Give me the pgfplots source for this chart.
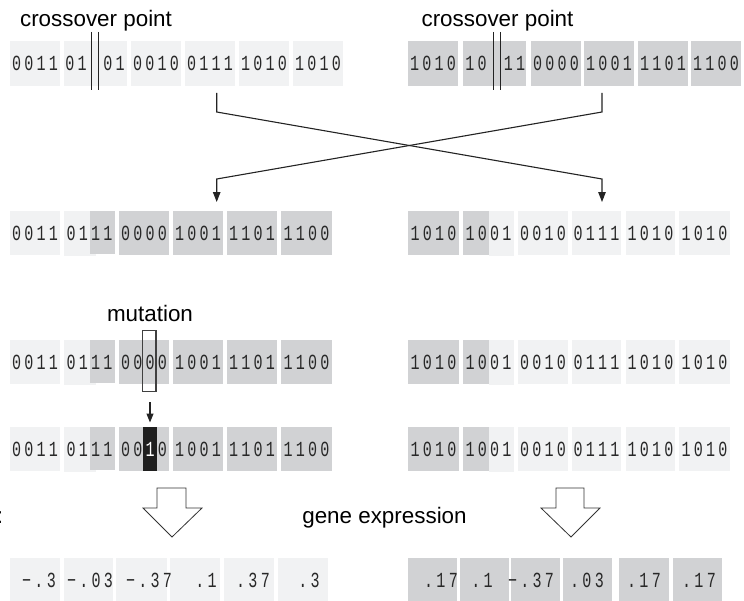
\documentclass[border=0pt]{standalone}
\usepackage{fontspec}
\setmainfont{Liberation Sans}
\newfontfamily\bitfont[FakeStretch=0.7]{Liberation Mono}
\usepackage{pgfplots}
\pgfplotsset{compat=1.18}
\usetikzlibrary{arrows.meta}

\definecolor{lightcell}{RGB}{241,242,243}
\definecolor{darkcell}{RGB}{209,210,212}
\definecolor{ink}{RGB}{40,40,40}
\definecolor{lineink}{RGB}{35,35,35}

% one shaded cell: colour, x1, y1, x2, y2 (pixel units, y down)
\newcommand{\cell}[5]{\addplot[fill=#1,draw=none] coordinates {(#2,#3) (#4,#3) (#4,#5) (#2,#5)} -- cycle;}
% set each character in a fixed-pitch slot
\makeatletter
\newcommand{\spread}[1]{\@tfor\c:=#1\do{\makebox[12.3bp]{\c}}}
\makeatother
% bit / value text centred at x, y
\newcommand{\bits}[3]{\node[text=ink,inner sep=0pt] at (axis cs:#1,#2) {\bitfont\fontsize{21.5bp}{21bp}\selectfont\spread{#3}};}
\newcommand{\lab}{\fontsize{22.4bp}{27bp}\selectfont}
% cells of a child row: top, bottom, bottom+1, bottom-1
\newcommand{\childcells}[4]{%
  \cell{lightcell}{10}{#1}{60}{#2}
  \cell{lightcell}{64}{#1}{96}{#3}
  \cell{darkcell}{90}{#1}{115}{#4}
  \cell{darkcell}{119}{#1}{169}{#2}
  \cell{darkcell}{173}{#1}{223}{#2}
  \cell{darkcell}{227}{#1}{277}{#2}
  \cell{darkcell}{281}{#1}{332}{#2}
  \cell{darkcell}{408}{#1}{459}{#2}
  \cell{darkcell}{463}{#1}{489}{#2}
  \cell{lightcell}{489}{#1}{514}{#3}
  \cell{lightcell}{518}{#1}{568}{#2}
  \cell{lightcell}{572}{#1}{621}{#2}
  \cell{lightcell}{626}{#1}{675}{#2}
  \cell{lightcell}{679}{#1}{730}{#2}}
% bits of a child row (left box 3 given separately): centre y
\newcommand{\childbits}[1]{%
  \bits{35}{#1}{0011}
  \bits{89.5}{#1}{0111}
  \bits{198}{#1}{1001}
  \bits{252}{#1}{1101}
  \bits{306.5}{#1}{1100}
  \bits{433.5}{#1}{1010}
  \bits{488.5}{#1}{1001}
  \bits{543}{#1}{0010}
  \bits{596.5}{#1}{0111}
  \bits{650.5}{#1}{1010}
  \bits{704.5}{#1}{1010}}

\begin{document}
\begin{tikzpicture}
\useasboundingbox (0,0) rectangle (744bp,601bp);
\clip (0,0) rectangle (744bp,601bp);
\begin{axis}[
    scale only axis,
    width=744bp, height=601bp,
    xmin=0, xmax=744, ymin=0, ymax=601,
    y dir=reverse,
    hide axis,
    clip=false,
]

% ---------- parents ----------
\cell{lightcell}{10}{41}{60}{86}
\cell{lightcell}{64}{41}{127}{86}
\cell{lightcell}{131}{41}{181}{86}
\cell{lightcell}{185}{41}{235}{86}
\cell{lightcell}{239}{41}{289}{86}
\cell{lightcell}{293}{41}{343}{86}
\cell{darkcell}{408}{41}{458}{86}
\cell{darkcell}{463}{41}{526}{86}
\cell{darkcell}{531}{41}{581}{86}
\cell{darkcell}{584}{41}{634}{86}
\cell{darkcell}{638}{41}{688}{86}
\cell{darkcell}{691}{41}{741}{86}

% ---------- children after crossover, before and after mutation ----------
\childcells{211}{255}{256}{254}
\childcells{340}{384}{385}{383}
\childcells{427}{471}{472}{470}
% mutated bit
\cell{black!88}{143}{427}{157}{471}

% ---------- expressed values ----------
\cell{lightcell}{10}{558}{60}{602}
\cell{lightcell}{64}{558}{113}{602}
\cell{lightcell}{116}{558}{167}{602}
\cell{lightcell}{170}{558}{220}{602}
\cell{lightcell}{224}{558}{274}{602}
\cell{lightcell}{278}{558}{328}{602}
\cell{darkcell}{408}{558}{457}{602}
\cell{darkcell}{460}{558}{509}{602}
\cell{darkcell}{511}{558}{560}{602}
\cell{darkcell}{563}{558}{612}{602}
\cell{darkcell}{619}{558}{669}{602}
\cell{darkcell}{673}{558}{722}{602}

% ---------- crossover marks ----------
\addplot[lineink,line width=1.3bp] coordinates {(91.7,32) (91.7,90)};
\addplot[lineink,line width=1.3bp] coordinates {(98.3,32) (98.3,90)};
\addplot[lineink,line width=1.3bp] coordinates {(493.7,32) (493.7,90)};
\addplot[lineink,line width=1.3bp] coordinates {(500.3,32) (500.3,90)};

% ---------- crossing arrows ----------
\addplot[lineink,line width=1.1bp,-{Triangle[length=10bp,width=7.5bp]}]
  coordinates {(216.7,93) (216.7,112) (602,179) (602,202)};
\addplot[lineink,line width=1.1bp,-{Triangle[length=10bp,width=7.5bp]}]
  coordinates {(602,93) (602,112) (216.7,179) (216.7,202)};

% ---------- mutation box and arrow ----------
\addplot[black!75,line width=1.1bp] coordinates {(142.7,330.7) (156,330.7) (156,391.7) (142.7,391.7)} -- cycle;
\addplot[lineink,line width=1.1bp,-{Triangle[length=9bp,width=7bp]}]
  coordinates {(150,402) (150,422.5)};

% ---------- hollow arrows ----------
\addplot[fill=white,draw=black!80,line width=0.8bp]
  coordinates {(157,488) (186,488) (186,508) (202,508) (172,537) (143,508) (157,508)} -- cycle;
\addplot[fill=white,draw=black!80,line width=0.8bp]
  coordinates {(556,488) (584,488) (584,508) (600,508) (571,537) (541,508) (556,508)} -- cycle;

% ---------- bit strings ----------
\bits{35}{63.5}{0011}
\bits{76}{63.5}{01}
\bits{114}{63.5}{01}
\bits{156}{63.5}{0010}
\bits{210}{63.5}{0111}
\bits{264}{63.5}{1010}
\bits{318}{63.5}{1010}
\bits{433}{63.5}{1010}
\bits{476}{63.5}{10}
\bits{514.5}{63.5}{11}
\bits{556}{63.5}{0000}
\bits{609}{63.5}{1001}
\bits{663}{63.5}{1101}
\bits{716}{63.5}{1100}

\childbits{233}
\childbits{362}
\childbits{449}
\bits{144}{233}{0000}
\bits{144}{362}{0000}
\bits{144}{449}{00{\color{white}1}0}

% ---------- values ----------
\bits{39}{580}{−.3}
\bits{90}{580}{−.03}
\bits{149}{580}{−.37}
\bits{206}{580}{.1}
\bits{253}{580}{.37}
\bits{309}{580}{.3}
\bits{441}{580}{.17}
\bits{482}{580}{.1}
\bits{531}{580}{−.37}
\bits{587}{580}{.03}
\bits{644}{580}{.17}
\bits{699}{580}{.17}

% ---------- labels ----------
\node[anchor=base] at (axis cs:96,26.7) {\lab crossover point};
\node[anchor=base] at (axis cs:497.5,26.7) {\lab crossover point};
\node[anchor=base] at (axis cs:150,321.7) {\lab mutation};
\node[anchor=base] at (axis cs:384.5,523) {\lab gene expression};
\node[anchor=base,inner sep=0pt] at (axis cs:0,523) {\lab :};

\end{axis}
\end{tikzpicture}
\end{document}
